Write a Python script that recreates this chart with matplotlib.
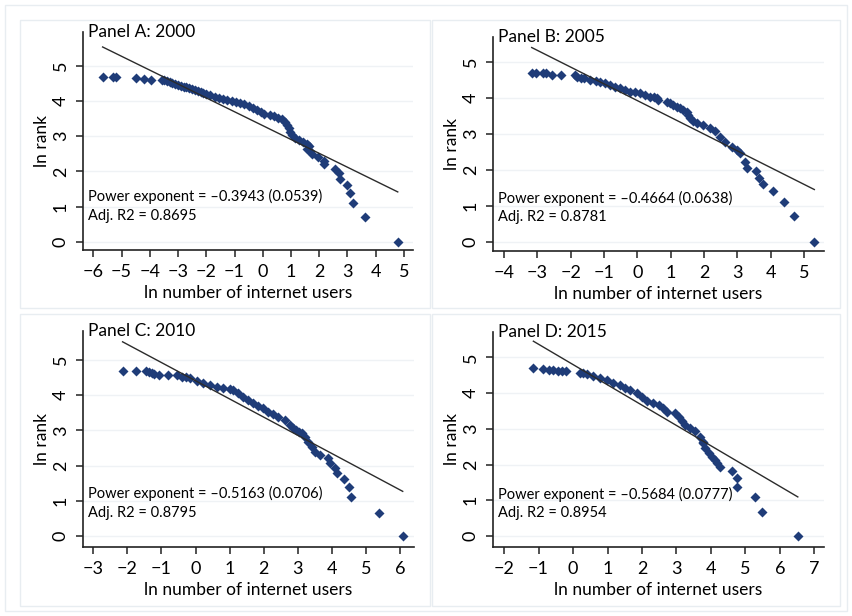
import matplotlib
matplotlib.use("Agg")
import matplotlib.pyplot as plt
import numpy as np
from matplotlib.patches import Rectangle

plt.rcParams['font.family'] = ['Lato', 'DejaVu Sans']

# ln(number of internet users) and ln(rank), one pair of arrays per year
x_2000 = [-5.67, -5.29, -5.18, -4.49, -4.21, -3.94, -3.58, -3.50, -3.40,
          -3.30, -3.20, -3.10, -3.00, -2.90, -2.80, -2.70, -2.60, -2.50, -2.40,
          -2.30, -2.20, -2.10, -2.00, -1.85, -1.70, -1.55, -1.40, -1.25, -1.10,
          -0.95, -0.80, -0.65, -0.50, -0.35, -0.20, -0.05, 0.05, 0.25, 0.40,
          0.55, 0.68, 0.78, 0.87, 0.93, 0.98, 1.05, 1.15, 1.30, 1.43, 1.55,
          1.62, 1.58, 1.68, 1.73, 1.97, 2.17, 2.17, 2.57, 2.71, 2.73, 2.99,
          3.09, 3.18, 3.63, 4.78]
y_2000 = [4.67, 4.67, 4.67, 4.64, 4.63, 4.61, 4.60, 4.59, 4.56,
          4.53, 4.50, 4.48, 4.46, 4.44, 4.41, 4.39, 4.36, 4.33, 4.30,
          4.28, 4.26, 4.23, 4.20, 4.16, 4.12, 4.09, 4.06, 4.03, 4.00,
          3.97, 3.94, 3.91, 3.86, 3.80, 3.74, 3.68, 3.64, 3.60, 3.58,
          3.53, 3.48, 3.40, 3.32, 3.22, 3.12, 3.02, 2.96, 2.90, 2.84, 2.78,
          2.72, 2.64, 2.57, 2.50, 2.40, 2.30, 2.20, 2.08, 1.95, 1.79, 1.61,
          1.39, 1.10, 0.69, 0.0]

x_2005 = [-3.17, -3.04, -2.84, -2.74, -2.57, -2.30, -1.87, -1.80, -1.70,
          -1.60, -1.42, -1.25, -1.12, -0.97, -0.82, -0.67, -0.52, -0.37, -0.22,
          -0.07, 0.08, 0.23, 0.38, 0.50, 0.58, 0.63, 0.88, 0.98, 1.08, 1.18,
          1.28, 1.38, 1.48, 1.53, 1.58, 1.68, 1.78, 1.98, 2.18, 2.33, 2.48,
          2.63, 2.83, 2.98, 3.08, 3.23, 3.30, 3.56, 3.66, 3.76, 4.06, 4.41,
          4.70, 5.31]
y_2005 = [4.71, 4.71, 4.69, 4.69, 4.65, 4.63, 4.63, 4.60, 4.57,
          4.55, 4.51, 4.48, 4.46, 4.41, 4.37, 4.32, 4.28, 4.23, 4.18,
          4.16, 4.14, 4.09, 4.04, 4.02, 4.00, 3.95, 3.90, 3.85, 3.81, 3.76,
          3.72, 3.67, 3.62, 3.53, 3.44, 3.37, 3.30, 3.25, 3.16, 3.07, 2.93,
          2.79, 2.65, 2.56, 2.46, 2.23, 2.06, 1.97, 1.78, 1.61, 1.42, 1.10,
          0.72, 0.0]

x_2010 = [-2.14, -1.75, -1.46, -1.37, -1.29, -1.22, -1.06, -0.82, -0.55,
          -0.41, -0.28, -0.16, 0.03, 0.23, 0.42, 0.62, 0.82, 1.01, 1.11, 1.26,
          1.40, 1.55, 1.70, 1.84, 1.99, 2.14, 2.28, 2.43, 2.63, 2.77, 2.87,
          2.95, 3.05, 3.12, 3.21, 3.31, 3.41, 3.51, 3.65, 3.90, 3.95, 4.09,
          4.16, 4.36, 4.49, 4.56, 5.39, 6.08]
y_2010 = [4.69, 4.69, 4.69, 4.66, 4.62, 4.60, 4.57, 4.57, 4.57,
          4.53, 4.51, 4.48, 4.40, 4.34, 4.29, 4.22, 4.19, 4.17, 4.15, 4.05,
          3.96, 3.86, 3.77, 3.69, 3.63, 3.53, 3.48, 3.37, 3.30, 3.15, 3.06,
          3.00, 2.96, 2.92, 2.82, 2.68, 2.54, 2.40, 2.30, 2.21, 2.08, 1.92,
          1.80, 1.62, 1.40, 1.12, 0.67, 0.0]

x_2015 = [-1.15, -0.88, -0.71, -0.57, -0.45, -0.33, -0.20, 0.19, 0.30,
          0.40, 0.59, 0.79, 0.98, 1.17, 1.37, 1.51, 1.66, 1.85, 2.00, 2.14,
          2.33, 2.48, 2.62, 2.72, 2.96, 3.06, 3.15, 3.25, 3.40, 3.54, 3.67,
          3.76, 3.78, 3.83, 3.93, 4.03, 4.12, 4.19, 4.25, 4.62, 4.75, 4.77,
          5.28, 5.48, 6.52]
y_2015 = [4.69, 4.68, 4.66, 4.65, 4.63, 4.63, 4.63, 4.57, 4.55,
          4.53, 4.48, 4.41, 4.37, 4.29, 4.23, 4.13, 4.09, 4.01, 3.90, 3.79,
          3.71, 3.67, 3.57, 3.48, 3.45, 3.34, 3.23, 3.11, 3.01, 2.94, 2.78,
          2.64, 2.59, 2.45, 2.31, 2.22, 2.13, 2.05, 1.94, 1.81, 1.62, 1.38,
          1.09, 0.66, 0.0]

titles = ["Panel A: 2000", "Panel B: 2005", "Panel C: 2010", "Panel D: 2015"]
exponents = [-0.3943, -0.4664, -0.5163, -0.5684]
std_errors = [0.0539, 0.0638, 0.0706, 0.0777]
adj_r2 = [0.8695, 0.8781, 0.8795, 0.8954]
intercepts = [3.30, 3.93, 4.41, 4.80]
x_ticks = [range(-6, 6), range(-4, 6), range(-3, 7), range(-2, 8)]

# axes placement in pixels: left, top, right, bottom
W, H = 852, 616
ax_px = [(82.7, 31.7, 413.0, 250.0), (492.7, 36.7, 824.0, 250.7),
         (82.7, 330.7, 414.3, 546.7), (492.7, 331.7, 824.0, 546.7)]
x_lims = [(-6.375, 5.32), (-4.34, 5.6), (-3.31, 6.42), (-2.33, 7.28)]
y_lims = [(-0.236, 5.97), (-0.25, 5.71), (-0.30, 5.83), (-0.30, 5.72)]
boxes_px = [(20, 20, 430, 308), (432, 20, 840, 308),
            (20, 314, 430, 606), (432, 314, 840, 606)]

xs = [x_2000, x_2005, x_2010, x_2015]
ys = [y_2000, y_2005, y_2010, y_2015]

fig = plt.figure(figsize=(W / 100, H / 100), dpi=100)
fig.patch.set_facecolor('white')

frame_col = '#e8edf1'
fig.add_artist(Rectangle((5 / W, 5 / H), 842 / W, 606 / H, transform=fig.transFigure,
                         fill=False, edgecolor=frame_col, lw=1.0))
for (l, t, r, b) in boxes_px:
    fig.add_artist(Rectangle((l / W, 1 - b / H), (r - l) / W, (b - t) / H,
                             transform=fig.transFigure, fill=False,
                             edgecolor=frame_col, lw=1.0))

navy = '#1f3c78'
for i in range(4):
    l, t, r, b = ax_px[i]
    ax = fig.add_axes([l / W, 1 - b / H, (r - l) / W, (b - t) / H])
    x = np.array(xs[i])
    y = np.array(ys[i])

    ax.set_xlim(*x_lims[i])
    ax.set_ylim(*y_lims[i])
    for gy in range(0, 6):
        ax.axhline(gy, color='#eff2f5', lw=1.0, zorder=0)

    ax.plot(x, y, linestyle='none', marker='D', ms=5.2, mec='none',
            color=navy, zorder=2)
    fx = np.array([x.min(), x.max()])
    ax.plot(fx, intercepts[i] + exponents[i] * fx, color='#2b2b2b', lw=1.0, zorder=3)

    for s in ['top', 'right']:
        ax.spines[s].set_visible(False)
    for s in ['left', 'bottom']:
        ax.spines[s].set_color('#222222')
        ax.spines[s].set_linewidth(1.2)

    ax.set_xticks(list(x_ticks[i]))
    ax.set_yticks(range(0, 6))
    ax.tick_params(axis='both', direction='out', length=5, width=1.1,
                   color='#222222', labelsize=13, pad=5)
    ax.tick_params(axis='y', labelrotation=90)
    for lab in ax.get_yticklabels():
        lab.set_va('center')

    ax.set_xlabel('ln number of internet users', fontsize=12.5, labelpad=4)
    ax.set_ylabel('ln rank', fontsize=12.5, labelpad=2)

    ax.text(0.015, 1.035, titles[i], transform=ax.transAxes, fontsize=12.5,
            ha='left', va='top')
    ax.text(0.015, 0.245,
            f'Power exponent = \u2013{abs(exponents[i]):.4f} ({std_errors[i]:.4f})',
            transform=ax.transAxes, fontsize=10.5, ha='left', va='center')
    ax.text(0.015, 0.158, f'Adj. R2 = {adj_r2[i]:.4f}', transform=ax.transAxes,
            fontsize=10.5, ha='left', va='center')

fig.savefig('out.png', dpi=100)
